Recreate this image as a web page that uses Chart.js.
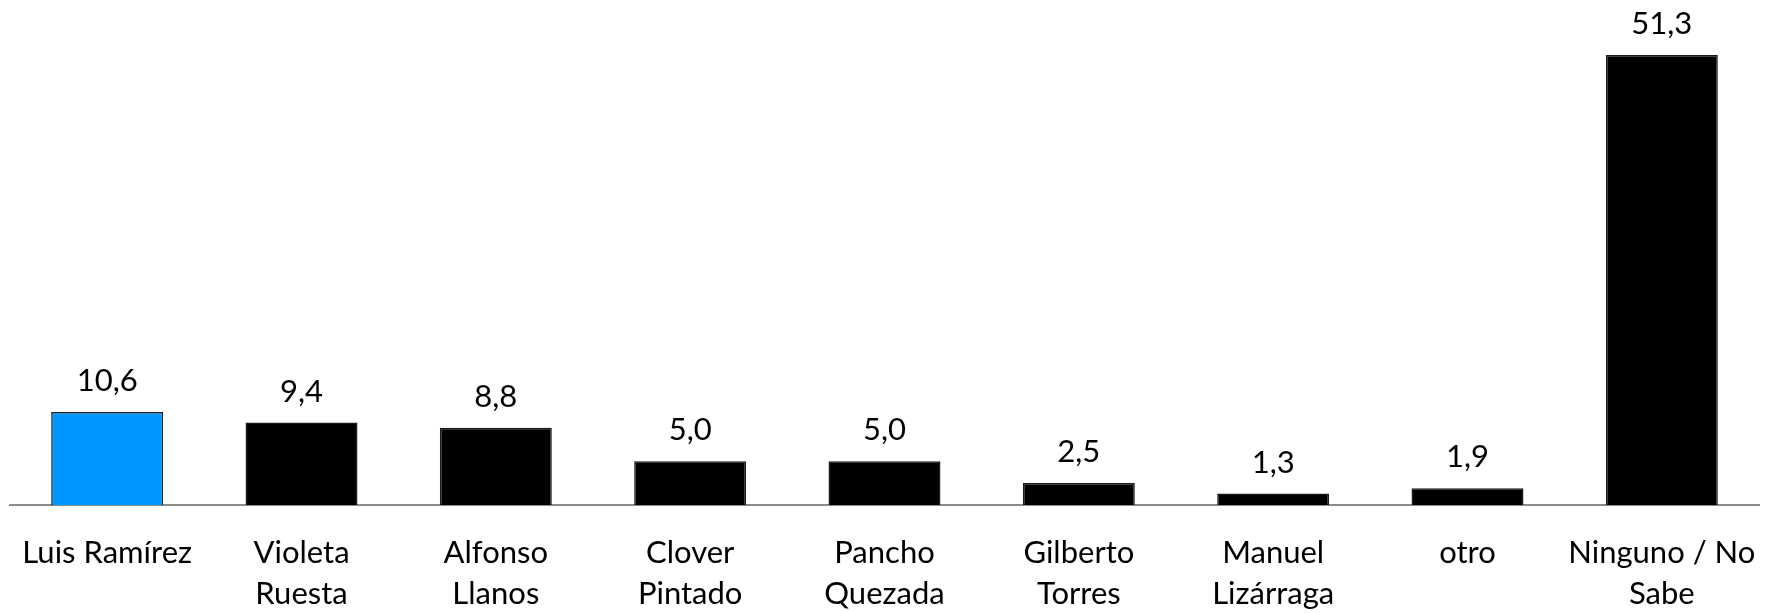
<!DOCTYPE html>
<html>
<head>
<meta charset="utf-8">
<script src="https://cdn.jsdelivr.net/npm/chart.js@4"></script>
<style>
  html, body { margin: 0; padding: 0; background: #fff; }
  #wrap { width: 1775px; height: 613px; }
</style>
</head>
<body>
<div id="wrap"><canvas id="c" width="1775" height="613"></canvas></div>
<script>
const categories = [
  'Luis Ramírez',
  ['Violeta', 'Ruesta'],
  ['Alfonso', 'Llanos'],
  ['Clover', 'Pintado'],
  ['Pancho', 'Quezada'],
  ['Gilberto', 'Torres'],
  ['Manuel', 'Lizárraga'],
  'otro',
  ['Ninguno / No', 'Sabe']
];
const values = [10.6, 9.4, 8.8, 5.0, 5.0, 2.5, 1.3, 1.9, 51.3];
const barColors = ['#0096FF', '#000000', '#000000', '#000000', '#000000', '#000000', '#000000', '#000000', '#000000'];

const FONT = 'Lato, "Open Sans", sans-serif';
const FONT_SIZE = 31;

const valueLabels = {
  id: 'valueLabels',
  afterDatasetsDraw(chart) {
    const ctx = chart.ctx;
    const meta = chart.getDatasetMeta(0);
    ctx.save();
    ctx.font = FONT_SIZE + 'px ' + FONT;
    ctx.fillStyle = '#000';
    ctx.textAlign = 'center';
    ctx.textBaseline = 'alphabetic';
    meta.data.forEach((bar, i) => {
      const txt = values[i].toFixed(1).replace('.', ',');
      ctx.fillText(txt, bar.x, bar.y - 21);
    });
    ctx.restore();
  }
};

new Chart(document.getElementById('c'), {
  type: 'bar',
  data: {
    labels: categories,
    datasets: [{
      data: values,
      backgroundColor: barColors,
      borderColor: '#1a1a1a',
      borderWidth: 1.5,
      categoryPercentage: 1,
      barPercentage: 0.576
    }]
  },
  options: {
    responsive: false,
    animation: false,
    devicePixelRatio: 1,
    layout: { padding: { left: 10, right: 16, top: 5, bottom: 0 } },
    plugins: { legend: { display: false }, tooltip: { enabled: false } },
    scales: {
      x: {
        grid: { display: false, drawTicks: false },
        border: { display: true, color: '#8c8c8c', width: 2 },
        ticks: {
          color: '#000',
          font: { family: FONT, size: FONT_SIZE, lineHeight: 1.34 },
          padding: 27,
          maxRotation: 0,
          autoSkip: false
        },
        afterFit(scale) {
          scale.height = 108;
          scale.paddingLeft = 0;
          scale.paddingRight = 0;
        }
      },
      y: {
        display: false,
        min: 0,
        max: 57
      }
    }
  },
  plugins: [valueLabels]
});
</script>
</body>
</html>
